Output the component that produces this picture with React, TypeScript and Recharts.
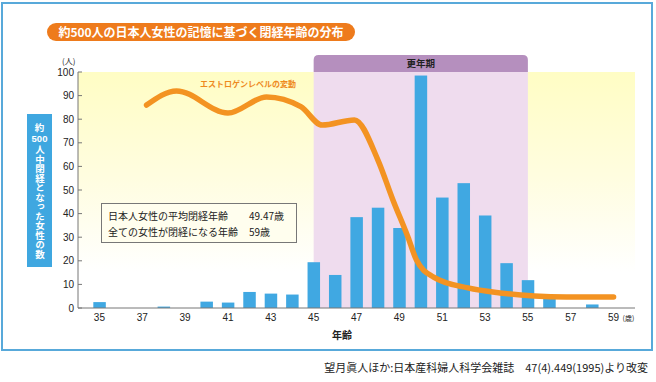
import React from "react";
import {
  Bar,
  ComposedChart,
  Line,
  ReferenceArea,
  XAxis,
  YAxis,
} from "recharts";

// 閉経年齢（歳）と人数
const ages = [35, 36, 37, 38, 39, 40, 41, 42, 43, 44, 45, 46, 47, 48, 49, 50, 51, 52, 53, 54, 55, 56, 57, 58, 59];
const counts = [2.5, 0, 0, 0.6, 0, 2.7, 2.3, 6.8, 6.1, 5.7, 19.4, 14, 38.5, 42.5, 33.9, 98.5, 46.8, 52.9, 39.2, 19, 11.8, 5, 0, 1.5, 0];

// エストロゲンレベルの変動（イメージ曲線）
const curveAges = [37.2, 38.6, 41, 42.8, 44.4, 45.4, 46.9, 48, 48.7, 49.4, 49.8, 50.6, 52.2, 53.7, 55.3, 56.8, 59];
const curveLevels = [86, 92, 82.6, 89.4, 85.3, 77.5, 79.7, 62.7, 45.8, 30.1, 20.3, 13.1, 8.5, 6.4, 5.1, 4.7, 4.7];

const xTicks = [35, 37, 39, 41, 43, 45, 47, 49, 51, 53, 55, 57, 59];
const yTicks = [0, 10, 20, 30, 40, 50, 60, 70, 80, 90, 100];

const barData = ages.map((age, i) => ({ age, count: counts[i] }));
const curveData = curveAges.map((age, i) => ({ age, level: curveLevels[i] }));

const jp = '"Noto Sans CJK JP", sans-serif';
const num = '"Liberation Sans", Arial, sans-serif';

const XTick = (props: any) => {
  const { x, y, payload } = props;
  return (
    <g>
      <text x={x} y={y} dy={8} textAnchor="middle" fontSize={10} fill="#222" fontFamily={num}>
        {payload.value}
      </text>
      {payload.value === 59 && (
        <text x={x + 9} y={y} dy={8} fontSize={7} fill="#222" fontFamily={jp}>
          (歳)
        </text>
      )}
    </g>
  );
};

// 数値軸なので棒幅は中心から固定幅で描く
const BarShape = (props: any) => {
  const { x, y, width, height, fill } = props;
  if (!height || height <= 0) return null;
  const cx = x + width / 2;
  const w = 12.5;
  return <rect x={cx - w / 2} y={y} width={w} height={height} fill={fill} />;
};

const Header = (props: any) => {
  const { x, y, width, height } = props;
  const r = 5;
  const d = `M${x},${y + height} L${x},${y + r} Q${x},${y} ${x + r},${y} L${x + width - r},${y} Q${x + width},${y} ${x + width},${y + r} L${x + width},${y + height} Z`;
  return (
    <g>
      <path d={d} fill="#B58FBE" />
      <text x={x + width / 2} y={y + height / 2 + 3.5} textAnchor="middle" fontSize={9.5} fontWeight="bold" fill="#222" fontFamily={jp}>
        更年期
      </text>
    </g>
  );
};

const App = () => {
  return (
    <div style={{ position: "relative", width: 656, height: 382, background: "#fff", fontFamily: jp }}>
      <style>{`body{margin:0}`}</style>
      <div
        style={{
          position: "absolute",
          left: 1,
          top: 2,
          width: 652,
          height: 349,
          boxSizing: "border-box",
          border: "2px solid #58A9DA",
        }}
      />
      <div style={{ position: "absolute", left: 0, top: 0 }}>
        <ComposedChart width={656} height={382} data={barData} margin={{ top: 72, right: 21, left: 38, bottom: 54 }}>
          <defs>
            <linearGradient id="yel" x1="0" y1="0" x2="0" y2="1">
              <stop offset="0%" stopColor="#FFFDC4" />
              <stop offset="45%" stopColor="#FFFDE0" />
              <stop offset="85%" stopColor="#FFFFFF" />
            </linearGradient>
          </defs>
          <XAxis
            dataKey="age"
            type="number"
            domain={[34, 60]}
            ticks={xTicks}
            allowDataOverflow
            axisLine={{ stroke: "#777" }}
            tickLine={false}
            tickSize={0}
            tickMargin={5}
            height={20}
            tick={<XTick />}
            interval={0}
          />
          <YAxis
            type="number"
            domain={[0, 100]}
            ticks={yTicks}
            width={40}
            axisLine={{ stroke: "#777" }}
            tickLine={{ stroke: "#777" }}
            tickSize={-4}
            tickMargin={8}
            tick={{ fontSize: 10, fill: "#222", fontFamily: num }}
            interval={0}
          />
          <ReferenceArea x1={34} x2={60} y1={0} y2={100} fill="url(#yel)" fillOpacity={1} stroke="none" zIndex={-300} />
          <ReferenceArea x1={45} x2={55} y1={0} y2={100} fill="#EFDCEE" fillOpacity={1} stroke="none" zIndex={-200} />
          <ReferenceArea x1={45} x2={55} y1={100} y2={107.2} ifOverflow="visible" shape={<Header />} zIndex={-200} />
          <Bar dataKey="count" fill="#40A8E2" shape={<BarShape />} isAnimationActive={false} />
          <Line
            data={curveData}
            dataKey="level"
            type="monotone"
            stroke="#F39322"
            strokeWidth={5.5}
            strokeLinecap="round"
            dot={false}
            activeDot={false}
            isAnimationActive={false}
          />
        </ComposedChart>
      </div>

      {/* タイトル */}
      <div
        style={{
          position: "absolute",
          left: 47,
          top: 23,
          width: 308,
          height: 18,
          borderRadius: 9,
          background: "#EE7B1C",
          color: "#fff",
          fontWeight: "bold",
          fontSize: 12,
          lineHeight: "18px",
          textAlign: "center",
          whiteSpace: "nowrap",
        }}
      >
        約500人の日本人女性の記憶に基づく閉経年齢の分布
      </div>

      <div style={{ position: "absolute", left: 62, top: 55, fontSize: 8, color: "#222" }}>(人)</div>

      {/* 縦軸ラベル */}
      <div
        style={{
          position: "absolute",
          left: 27,
          top: 114,
          width: 25,
          height: 153,
          background: "#3FA7E0",
          color: "#fff",
          fontWeight: "bold",
        }}
      >
        <div style={{ position: "absolute", left: 0, top: 8, width: 25, textAlign: "center", fontSize: 9.5, lineHeight: "11px" }}>約</div>
        <div style={{ position: "absolute", left: 0, top: 19, width: 25, textAlign: "center", fontSize: 9.5, lineHeight: "11px", fontFamily: num }}>
          500
        </div>
        <div
          style={{
            position: "absolute",
            left: 7,
            top: 31,
            width: 11,
            fontSize: 9.5,
            lineHeight: "11px",
            writingMode: "vertical-rl",
            whiteSpace: "nowrap",
          }}
        >
          人中閉経となった女性の数
        </div>
      </div>

      <div style={{ position: "absolute", left: 200, top: 78, fontSize: 8, fontWeight: "bold", color: "#EE8A1E", whiteSpace: "nowrap" }}>
        エストロゲンレベルの変動
      </div>

      {/* 注記ボックス */}
      <div
        style={{
          position: "absolute",
          left: 101,
          top: 203,
          width: 196,
          height: 40,
          boxSizing: "border-box",
          border: "1px solid #777",
          background: "#FFFEEE",
          fontSize: 10,
          color: "#222",
          paddingLeft: 6,
          paddingTop: 4,
          lineHeight: "16px",
          whiteSpace: "nowrap",
        }}
      >
        <div>
          <span style={{ display: "inline-block", width: 141 }}>日本人女性の平均閉経年齢</span>
          49.47歳
        </div>
        <div>
          <span style={{ display: "inline-block", width: 141 }}>全ての女性が閉経になる年齢</span>
          59歳
        </div>
      </div>

      <div style={{ position: "absolute", left: 322, top: 327, width: 40, textAlign: "center", fontSize: 10, fontWeight: "bold", color: "#222" }}>
        年齢
      </div>

      <div
        style={{
          position: "absolute",
          right: 8,
          top: 359,
          fontSize: 11,
          color: "#222",
          whiteSpace: "nowrap",
        }}
      >
        望月眞人ほか:日本産科婦人科学会雑誌　47(4).449(1995)より改変
      </div>
    </div>
  );
};

export default App;
